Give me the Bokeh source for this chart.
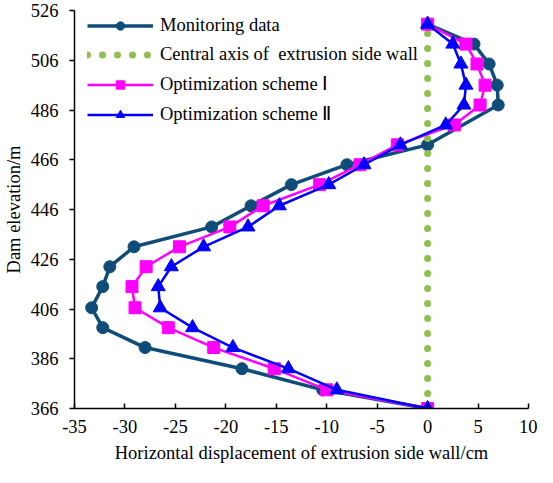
from bokeh.plotting import figure
from bokeh.models import FixedTicker, Legend, LegendItem, NumeralTickFormatter
from bokeh.embed import file_html
from bokeh.resources import INLINE

# ---- data ----
elevation = [366, 373.5, 382, 390.5, 398.5, 406.5, 415, 423, 431, 439,
             447.5, 456, 464, 472, 480, 488, 496, 504.5, 512.5, 520.5]

monitor_elev = [366, 373.5, 382, 390.5, 398.5, 406.5, 415, 423, 431, 439,
                447.5, 456, 464, 472, 488, 496, 504.5, 512.5, 520.5]
monitor_disp = [0, -10.4, -18.4, -28.0, -32.2, -33.3, -32.2, -31.5, -29.1, -21.4,
                -17.5, -13.5, -8.0, 0, 7.0, 6.9, 6.1, 4.6, 0]

scheme1_disp = [0, -10.0, -15.2, -21.2, -25.7, -29.0, -29.3, -27.9, -24.6, -19.6,
                -16.3, -10.7, -6.7, -3.0, 2.65, 5.2, 5.7, 4.9, 3.8, 0]

scheme2_disp = [0, -9.0, -13.8, -19.3, -23.3, -26.5, -26.7, -25.4, -22.2, -17.8,
                -14.7, -9.8, -6.3, -2.7, 1.8, 3.6, 3.8, 3.3, 2.5, 0]

axis_disp = [0, 0]
axis_elev = [366, 520.5]

x_ticks = [-35, -30, -25, -20, -15, -10, -5, 0, 5, 10]
y_ticks = [366, 386, 406, 426, 446, 466, 486, 506, 526]

labels = ["Monitoring data", "Central axis of  extrusion side wall",
          "Optimization scheme \u2160", "Optimization scheme \u2161"]

# ---- style ----
FONT = "Liberation Serif"
FS = "18.5px"
C_MON = "#0F4C78"
C_AX = "#8FC04F"
C_S1 = "#FF00FF"
C_S2 = "#0000FF"

p = figure(width=537, height=466, x_range=(-35, 10), y_range=(366, 526),
           output_backend="svg", toolbar_location=None,
           min_border_left=72, min_border_right=9, min_border_top=10,
           min_border_bottom=58)
p.xgrid.visible = False
p.ygrid.visible = False
p.outline_line_color = None
p.background_fill_color = "white"
p.border_fill_color = "white"

r_mon_l = p.line(monitor_disp, monitor_elev, line_color=C_MON, line_width=3.5)
r_mon_m = p.scatter(monitor_disp, monitor_elev, marker="circle", size=12,
                    fill_color=C_MON, line_color=C_MON)
r_ax = p.line(axis_disp, axis_elev, line_color=C_AX, line_width=7,
              line_dash="0 15", line_cap="round")
r_s1_l = p.line(scheme1_disp, elevation, line_color=C_S1, line_width=2.5)
r_s1_m = p.scatter(scheme1_disp, elevation, marker="square", size=12,
                   fill_color=C_S1, line_color=C_S1)
r_s2_l = p.line(scheme2_disp, elevation, line_color=C_S2, line_width=2.5)
r_s2_m = p.scatter(scheme2_disp, elevation, marker="triangle", size=14,
                   fill_color=C_S2, line_color=C_S2)

legend = Legend(items=[
    LegendItem(label=labels[0], renderers=[r_mon_l, r_mon_m]),
    LegendItem(label=labels[1], renderers=[r_ax]),
    LegendItem(label=labels[2], renderers=[r_s1_l, r_s1_m]),
    LegendItem(label=labels[3], renderers=[r_s2_l, r_s2_m]),
], location=(13, 283))
legend.margin = 0
legend.padding = 0
legend.spacing = 8
legend.glyph_width = 66
legend.glyph_height = 21
legend.label_height = 21
legend.label_standoff = 7
legend.label_text_font = FONT
legend.label_text_font_size = FS
legend.label_text_color = "black"
legend.background_fill_alpha = 0
legend.border_line_color = None
p.add_layout(legend)

for ax in (p.xaxis[0], p.yaxis[0]):
    ax.axis_line_color = "black"
    ax.axis_line_width = 1.5
    ax.major_tick_line_color = "black"
    ax.major_tick_line_width = 1.5
    ax.minor_tick_line_color = None
    ax.major_label_text_font = FONT
    ax.major_label_text_font_size = FS
    ax.major_label_text_color = "black"
    ax.axis_label_text_font = FONT
    ax.axis_label_text_font_size = FS
    ax.axis_label_text_font_style = "normal"
    ax.axis_label_text_color = "black"
    ax.formatter = NumeralTickFormatter(format="0")

p.xaxis[0].ticker = FixedTicker(ticks=x_ticks)
p.yaxis[0].ticker = FixedTicker(ticks=y_ticks)
p.xaxis[0].major_tick_in = 5
p.xaxis[0].major_tick_out = 0
p.yaxis[0].major_tick_in = 0
p.yaxis[0].major_tick_out = 5
p.xaxis[0].major_label_standoff = 11
p.yaxis[0].major_label_standoff = 11
p.xaxis[0].axis_label = "Horizontal displacement of extrusion side wall/cm"
p.yaxis[0].axis_label = "Dam elevation/m"
p.xaxis[0].axis_label_standoff = 7
p.yaxis[0].axis_label_standoff = 4

open("out.html", "w").write(file_html(p, INLINE))
